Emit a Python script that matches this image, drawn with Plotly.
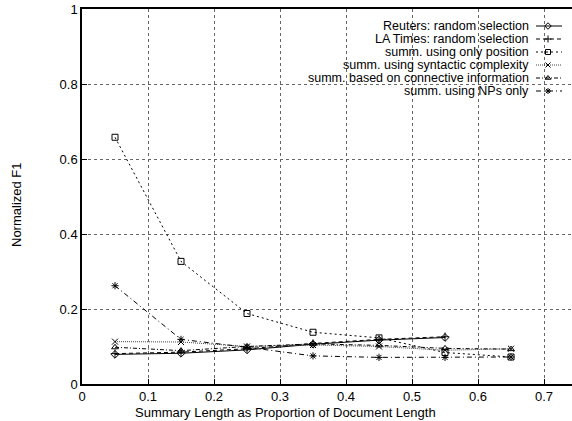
import plotly.graph_objects as go

# Summary length as a proportion of the document length
lengths = [0.05, 0.15, 0.25, 0.35, 0.45, 0.55, 0.65]

reuters_random = [0.079, 0.082, 0.091, 0.106, 0.117, 0.124]
latimes_random = [0.081, 0.085, 0.094, 0.108, 0.119, 0.126]
position_only = [0.658, 0.327, 0.188, 0.138, 0.123, 0.084, 0.072]
syntactic = [0.113, 0.112, 0.100, 0.104, 0.100, 0.090, 0.094]
connective = [0.098, 0.089, 0.100, 0.107, 0.103, 0.095, 0.093]
nps_only = [0.262, 0.119, 0.098, 0.075, 0.071, 0.071, 0.072]

series_names = [
    "Reuters: random selection",
    "LA Times: random selection",
    "summ. using only position",
    "summ. using syntactic complexity",
    "summ. based on connective information",
    "summ. using NPs only",
]
series_values = [reuters_random, latimes_random, position_only,
                 syntactic, connective, nps_only]
series_dash = ["solid", "4px,3px", "2px,3px", "1px,1px",
               "4px,2px,1px,2px", "5px,3px,1px,3px"]
series_symbol = ["diamond-open", "cross-thin-open", "square-open",
                 "x-thin-open", "triangle-up-open", "asterisk-open"]
series_color = ["#000000", "#000000", "#000000", "#444444",
                "#000000", "#000000"]

y_ticks = [0, 0.2, 0.4, 0.6, 0.8, 1]
y_ticklabels = ["0", "0.2", "0.4", "0.6", "0.8", "1"]
x_ticks = [0, 0.1, 0.2, 0.3, 0.4, 0.5, 0.6, 0.7]
x_ticklabels = ["0", "0.1", "0.2", "0.3", "0.4", "0.5", "0.6", "0.7"]

W, H = 572, 421
ML, MR, MT, MB = 82, 0, 9, 37
FONT = "Liberation Sans, Arial, Helvetica, sans-serif"

fig = go.Figure()

for name, vals, dash, sym, col in zip(series_names, series_values,
                                      series_dash, series_symbol, series_color):
    fig.add_trace(go.Scatter(
        x=lengths[:len(vals)], y=vals, mode="lines+markers", name=name,
        line=dict(color=col, width=1, dash=dash),
        marker=dict(symbol=sym, size=6, color="#000000",
                    line=dict(color="#000000", width=1)),
        showlegend=False,
    ))

# Key drawn in pixel coordinates on an overlay axis pair:
# right-aligned label followed by a short line sample with its marker.
key_text_right = 530
key_x0, key_x1, key_mark = 536, 562, 548
key_rows = [26, 39, 52, 65, 78, 91]
for name, dash, sym, col, ry in zip(series_names, series_dash, series_symbol,
                                    series_color, key_rows):
    fig.add_trace(go.Scatter(
        x=[key_x0, key_x1], y=[ry, ry], mode="lines",
        line=dict(color=col, width=1, dash=dash),
        xaxis="x2", yaxis="y2", showlegend=False, hoverinfo="skip",
    ))
    fig.add_trace(go.Scatter(
        x=[key_mark], y=[ry], mode="markers",
        marker=dict(symbol=sym, size=5, color="#000000",
                    line=dict(color="#000000", width=1)),
        xaxis="x2", yaxis="y2", showlegend=False, hoverinfo="skip",
    ))
    fig.add_annotation(
        x=key_text_right, y=ry, xref="x2", yref="y2", text=name,
        showarrow=False, xanchor="right", yanchor="middle",
        font=dict(family=FONT, size=12.5, color="#000000"),
        borderpad=0,
    )

plot_w = W - ML - MR
plot_h = H - MT - MB

fig.update_layout(
    width=W, height=H,
    margin=dict(l=ML, r=MR, t=MT, b=MB, pad=0),
    paper_bgcolor="white", plot_bgcolor="white",
    font=dict(family=FONT, size=13, color="#000000"),
    xaxis=dict(
        range=[0, 0.7424], tickvals=x_ticks, ticktext=x_ticklabels,
        showgrid=True, gridcolor="#666666", griddash="dot", gridwidth=1,
        zeroline=False, showline=True, linecolor="#000000", linewidth=1.5,
        mirror=True, ticks="inside", ticklen=5, tickcolor="#000000",
        tickfont=dict(size=13),
    ),
    yaxis=dict(
        range=[0, 1], tickvals=y_ticks, ticktext=y_ticklabels,
        showgrid=True, gridcolor="#666666", griddash="dot", gridwidth=1,
        zeroline=False, showline=True, linecolor="#000000", linewidth=1.5,
        mirror=False, ticks="inside", ticklen=5, tickcolor="#000000",
        tickfont=dict(size=13),
    ),
    xaxis2=dict(range=[ML, W - MR], overlaying="x", visible=False,
                fixedrange=True),
    yaxis2=dict(range=[H - MB, MT], overlaying="y", visible=False,
                fixedrange=True),
)

# Axis titles placed as annotations in paper coordinates
fig.add_annotation(
    x=(285 - ML) / plot_w, y=-(412 - (H - MB)) / plot_h,
    xref="paper", yref="paper",
    text="Summary Length as Proportion of Document Length",
    showarrow=False, xanchor="center", yanchor="middle", borderpad=0,
    font=dict(family=FONT, size=13, color="#000000"),
)
fig.add_annotation(
    x=-(ML - 17) / plot_w, y=(H - MB - 205) / plot_h,
    xref="paper", yref="paper", text="Normalized F1", textangle=-90,
    showarrow=False, xanchor="center", yanchor="middle", borderpad=0,
    font=dict(family=FONT, size=13, color="#000000"),
)

fig.write_html("out.html")
